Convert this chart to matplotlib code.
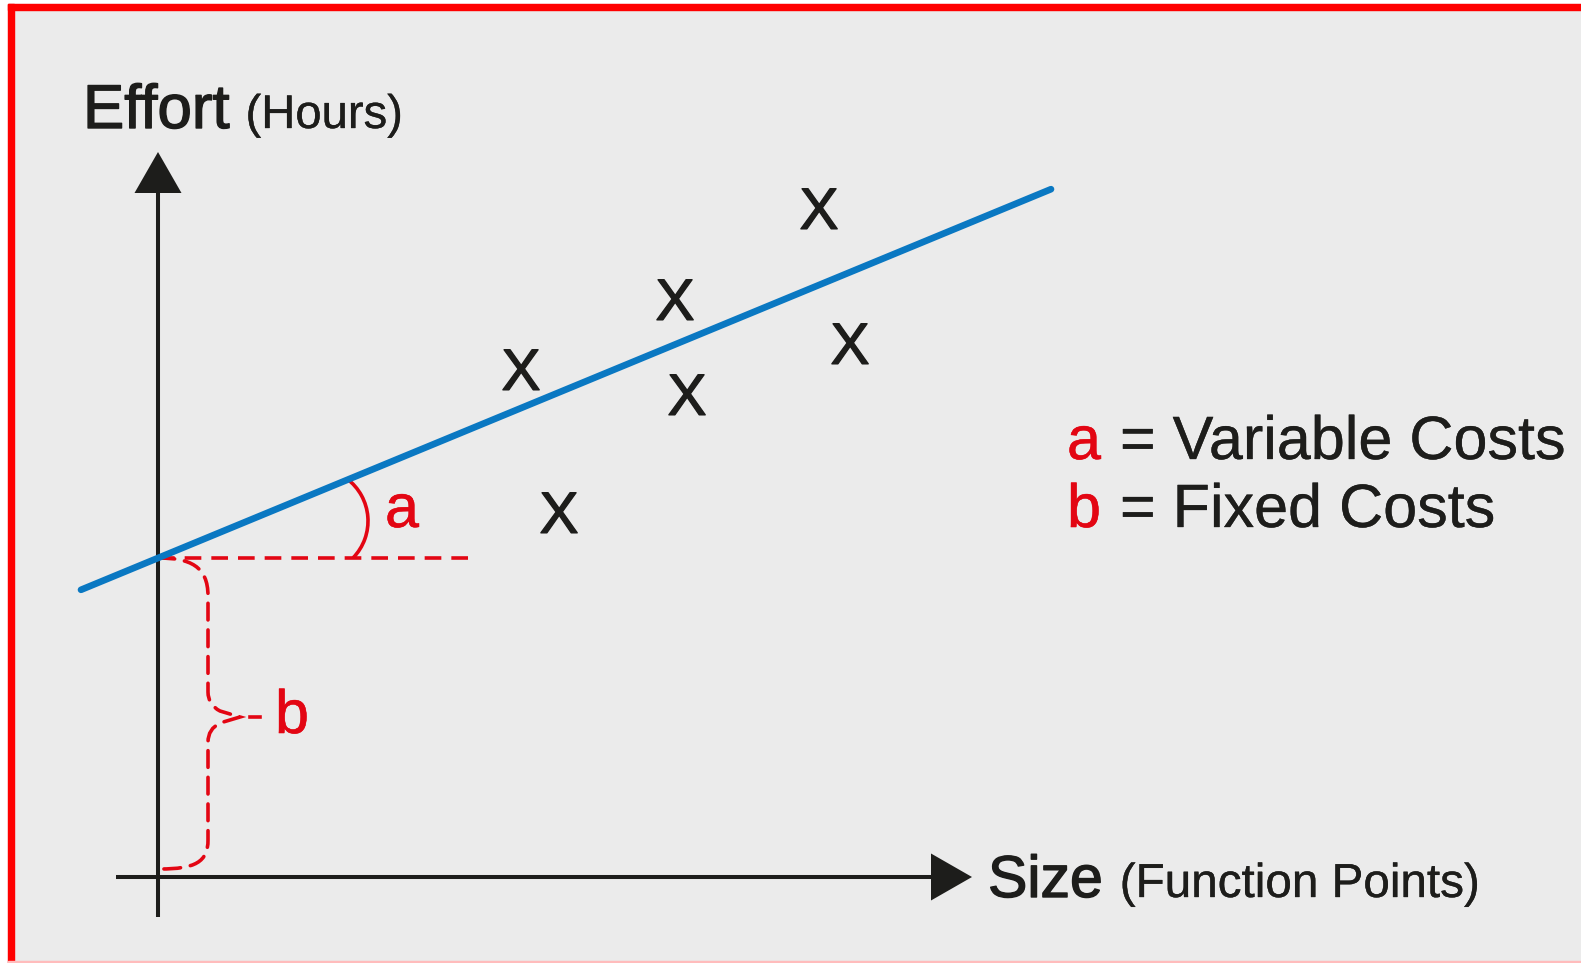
import numpy as np
import matplotlib
matplotlib.use("Agg")
import matplotlib.pyplot as plt
from matplotlib.patches import Rectangle, Polygon, Arc, PathPatch
from matplotlib.path import Path
import matplotlib.patheffects as pe
import matplotlib.transforms as mtransforms

plt.rcParams['font.family'] = ['Liberation Sans', 'DejaVu Sans']
plt.rcParams['lines.scale_dashes'] = False

# data (size in function points, effort in hours, arbitrary units)
size_fp = [3.63, 5.17, 5.29, 6.61, 6.92, 4.01]
effort_h = [5.08, 5.78, 4.83, 6.69, 5.34, 3.65]
intercept_b = 3.19
slope_a = 0.413
line_x = [-0.77, 8.93]

# labels
y_title = "Effort"
y_unit = "(Hours)"
x_title = "Size"
x_unit = "(Function Points)"
legend_keys = ["a", "b"]
legend_text = [" = Variable Costs", " = Fixed Costs"]

ink = '#1d1d1b'
red = '#e30613'
blue = '#0a78c2'
bg = '#ebebeb'

W, H = 1581, 963
fig = plt.figure(figsize=(W / 100, H / 100), dpi=100)
fig.patch.set_facecolor('white')

# panel background and red frame
fig.add_artist(Rectangle((8 / W, 0), 1, (H - 4) / H, transform=fig.transFigure,
                         color=bg, zorder=-3))
fig.add_artist(Rectangle((8 / W, 0), 6 / W, (H - 4) / H, transform=fig.transFigure,
                         color='#ff0000', zorder=-2))
fig.add_artist(Rectangle((8 / W, (H - 10) / H), 1, 6 / H, transform=fig.transFigure,
                         color='#ff0000', zorder=-2))
fig.add_artist(Rectangle((8 / W, 0), 1, 2 / H, transform=fig.transFigure,
                         color='#ffbcbc', zorder=-2))

ax = fig.add_axes([0, 0, 1, 1])
ax.set_facecolor('none')
ax.set_xlim(-1.58, 14.23)
ax.set_ylim(-0.86, 8.77)
ax.axis('off')

# axes with arrow heads
ax.plot([0, 0], [-0.40, 6.90], color=ink, lw=2.9, solid_capstyle='butt')
ax.add_patch(Polygon([[-0.235, 6.84], [0.235, 6.84], [0, 7.25]], closed=True, color=ink, lw=0))
ax.plot([-0.42, 7.80], [0, 0], color=ink, lw=2.9, solid_capstyle='butt')
ax.add_patch(Polygon([[7.73, -0.235], [7.73, 0.235], [8.14, 0]], closed=True, color=ink, lw=0))

# regression line
lx = np.array(line_x)
ax.plot(lx, intercept_b + slope_a * lx, color=blue, lw=4.8, solid_capstyle='round', zorder=3)

# data points drawn as "X"
xoff = mtransforms.offset_copy(ax.transData, fig=fig, x=0, y=-15, units='points')
heavy = [pe.withStroke(linewidth=1.0, foreground=ink)]
for x, y in zip(size_fp, effort_h):
    ax.text(x, y, "X", fontsize=42, color=ink, ha='center', va='baseline', transform=xoff,
            path_effects=heavy)

# dashed horizontal at intercept
b = intercept_b
ax.plot([0, 3.11], [b, b], color=red, lw=2.6, linestyle=(0, (12, 7.2)), zorder=2)

# angle arc for a
ax.add_patch(Arc((1.57, b + 0.37), 1.06, 1.06, theta1=-44, theta2=53, color=red, lw=2.6))
red_soft = [pe.withStroke(linewidth=0.4, foreground=red)]
ax.text(2.44, 3.50, "a", fontsize=44, color=red, ha='center', va='baseline',
        path_effects=red_soft)

# curly brace for b
verts = [(0.0, b), (0.32, b), (0.50, b - 0.08), (0.50, b - 0.38),
         (0.50, 1.85),
         (0.50, 1.72), (0.62, 1.66),
         (0.82, 1.60),
         (0.62, 1.54),
         (0.50, 1.48), (0.50, 1.35),
         (0.50, 0.37),
         (0.50, 0.15), (0.37, 0.08), (0.02, 0.08)]
codes = [Path.MOVETO, Path.CURVE4, Path.CURVE4, Path.CURVE4,
         Path.LINETO,
         Path.CURVE3, Path.CURVE3,
         Path.LINETO,
         Path.LINETO,
         Path.CURVE3, Path.CURVE3,
         Path.LINETO,
         Path.CURVE4, Path.CURVE4, Path.CURVE4]
ax.add_patch(PathPatch(Path(verts, codes), fill=False, edgecolor=red, lw=2.6,
                       linestyle=(0, (12, 7.2)), capstyle='round', joinstyle='miter'))
ax.plot([0.92, 1.02], [1.60, 1.60], color=red, lw=2.6)
ax.text(1.34, 1.44, "b", fontsize=44, color=red, ha='center', va='baseline',
        path_effects=red_soft)

renderer = fig.canvas.get_renderer()


def text_after(first, gap_px, s, **kw):
    bb = first.get_window_extent(renderer)
    x = ax.transData.inverted().transform((bb.x1 + gap_px, 0))[0]
    return ax.text(x, first.get_position()[1], s, va='baseline', ha='left', **kw)


medium = [pe.withStroke(linewidth=1.0, foreground=ink)]
soft = [pe.withStroke(linewidth=0.25, foreground=ink)]

t = ax.text(-0.75, 7.49, y_title, fontsize=44.5, color=ink, ha='left', va='baseline',
            path_effects=medium)
text_after(t, 16, y_unit, fontsize=34, color=ink, path_effects=soft)

t = ax.text(8.30, -0.20, x_title, fontsize=42.5, color=ink, ha='left', va='baseline',
            path_effects=medium)
text_after(t, 17, x_unit, fontsize=34.3, color=ink, path_effects=soft)

for key, txt, yb in zip(legend_keys, legend_text, [4.18, 3.50]):
    t = ax.text(9.09, yb, key, fontsize=44, color=red, ha='left', va='baseline',
                path_effects=red_soft)
    text_after(t, 2, txt, fontsize=44, color=ink, path_effects=soft)

fig.savefig("out.png", dpi=100, facecolor=fig.get_facecolor())
